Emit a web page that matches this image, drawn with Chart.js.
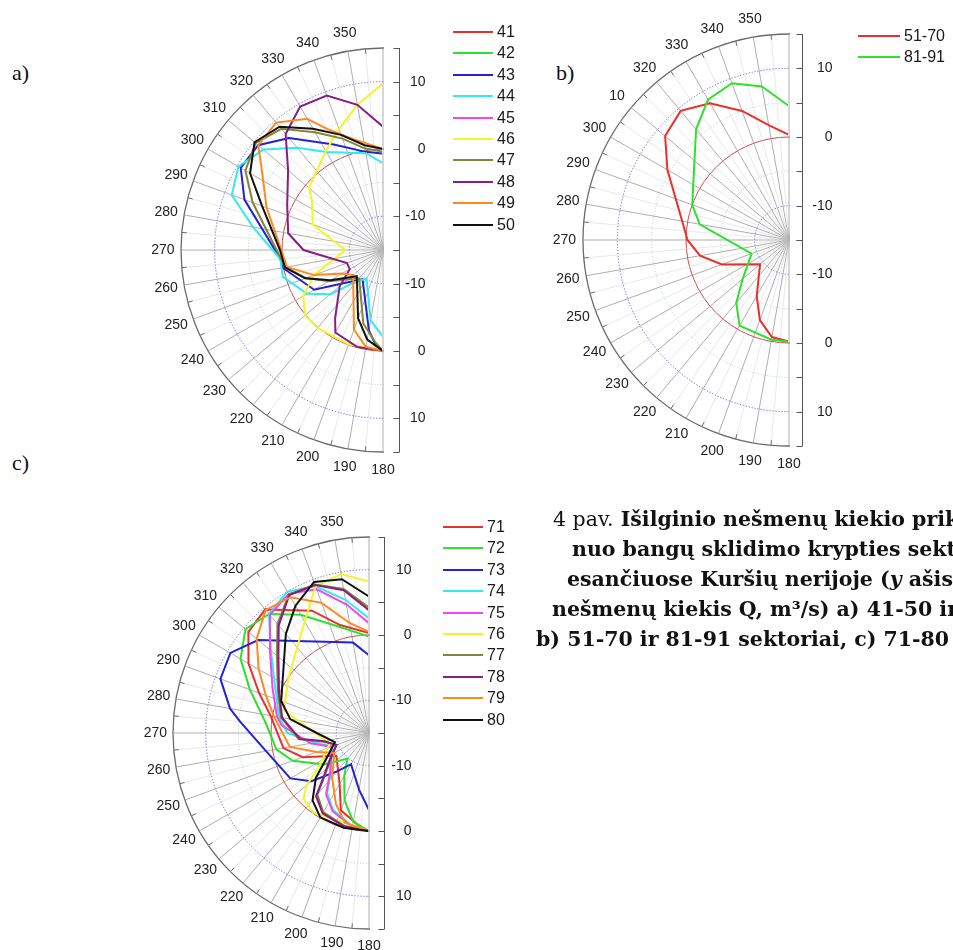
<!DOCTYPE html>
<html>
<head>
<meta charset="utf-8">
<title>Išilginio nešmenų kiekio priklausomybė</title>
<script src="https://cdn.jsdelivr.net/npm/chart.js@4.4.1/dist/chart.umd.min.js"></script>
<style>
  html, body { margin: 0; padding: 0; background: #fff; }
  body { position: relative; width: 953px; height: 950px; overflow: hidden; font-family: "Liberation Sans", Arial, sans-serif; }
  canvas { position: absolute; }
  .legend { position: absolute; font-size: 16px; color: #1a1a1a; }
  .legend .row { display: flex; align-items: center; height: 21.4px; }
  .legend .ln { display: inline-block; height: 0; border-top: 2px solid; margin-right: 4px; }
  .tag { position: absolute; font-family: "Liberation Serif", "DejaVu Serif", serif; font-size: 22px; color: #111; line-height: 1; }
  .cap { position: absolute; font-family: "DejaVu Serif", serif; font-size: 20.5px; font-weight: bold; white-space: nowrap; color: #111; line-height: 1; }
  .cap .n { font-weight: normal; }
</style>
</head>
<body>
<div class="tag" style="left:12px;top:62px">a)</div>
<div class="tag" style="left:556px;top:62px">b)</div>
<div class="tag" style="left:12px;top:452px">c)</div>

<canvas id="chA"></canvas>
<canvas id="chB"></canvas>
<canvas id="chC"></canvas>

<div id="legA" class="legend"></div>
<div id="legB" class="legend"></div>
<div id="legC" class="legend"></div>

<div class="cap" style="left:553px;top:509px"><span class="n">4 pav.</span> Išilginio nešmenų kiekio priklausomybės</div>
<div class="cap" style="left:572px;top:539px">nuo bangų sklidimo krypties sektoriuose,</div>
<div class="cap" style="left:567px;top:569px">esančiuose Kuršių nerijoje (<i>y</i> ašis –</div>
<div class="cap" style="left:552px;top:599px">nešmenų kiekis Q, m³/s) a) 41-50 ir</div>
<div class="cap" style="left:536px;top:629px">b) 51-70 ir 81-91 sektoriai, c) 71-80 sektoriai</div>

<script>
const _ = null;

// direction tick labels (degrees) shown round each half circle
const dirTicksA = ['180', '190', '200', '210', '220', '230', '240', '250', '260', '270', '280', '290', '300', '310', '320', '330', '340', '350'];
const dirTicksB = ['180', '190', '200', '210', '220', '230', '240', '250', '260', '270', '280', '290', '300', '10', '320', '330', '340', '350'];
const dirTicksC = dirTicksA;

// labels on the vertical Q axis, minor ticks every 5
const axisTicks = [10, 0, -10];
const axisMinor = [15, 10, 5, 0, -5, -10, -15];

// a) sectors 41-50, [direction, Q]
const a41 = []; // not visible in the figure
const a42 = [];
const a43 = [[180, 0], [185, -1.1], [190, -2.9], [215, -9.7], [230, -7.3], [240, -3.2], [260, 0.15], [265, 0.3], [290, 6.9], [300, 9.4], [310, 9.2], [320, 6.7], [335, 2.3], [350, -0.2], [360, -0.7]];
const a44 = [[180, -2.1], [190, -4.4], [210, -10.1], [220, -8.9], [230, -4.8], [240, -2], [255, 0.4], [265, 0.3], [280, 4.6], [290, 8.9], [300, 9.8], [310, 8.2], [320, 4.8], [330, 1.8], [350, -0.4], [360, -2.1]];
const a45 = [];
const a46 = [[180, 0], [200, -0.1], [220, 0.1], [230, 0.1], [240, -1.3], [250, -4.1], [270, -9.4], [290, -3.9], [305, -2.1], [310, -0.65], [330, 2], [340, 4.1], [350, 6.9], [360, 9.75]];
const a47 = [[180, 0], [185, -1.3], [195, -3.7], [220, -9.5], [240, -5.7], [250, -2.8], [260, -0.3], [270, 0.8], [290, 5.6], [300, 8.6], [310, 9.7], [320, 8.5], [330, 5.2], [340, 2.6], [350, 0.3], [360, -0.4]];
const a48 = [[180, 0], [195, -0.1], [210, -0.85], [215, -2.6], [230, -6.6], [240, -9.3], [250, -9.3], [270, -3.2], [280, -0.7], [295, 0.7], [310, 3.4], [320, 7.5], [330, 9.6], [340, 9.4], [350, 6.9], [360, 3.3]];
const a49 = [[180, 0], [190, -0.4], [200, -2.4], [230, -9.2], [240, -8], [250, -4.1], [260, -0.5], [270, 0.1], [290, 3.4], [305, 7.1], [310, 9.2], [320, 9.7], [330, 7.5], [335, 4.9], [345, 2.05], [360, 0]];
const a50 = [[180, 0], [190, -1.5], [200, -4.2], [225, -9.5], [240, -6], [250, -2.7], [260, -0.2], [270, 0.3], [290, 4.1], [300, 7.8], [310, 9.9], [320, 8.9], [330, 5.8], [340, 3.2], [350, 0.8], [360, 0]];

// b) sectors 51-70 and 81-91
const b5170 = [[180, -0.2], [190, -0.65], [200, -2.6], [210, -5.6], [230, -9.5], [250, -4.6], [260, -1.85], [270, -0.2], [275, 0.2], [300, 5.45], [310, 8.55], [320, 9.55], [330, 8], [340, 5], [350, 2], [360, 0.3]];
const b8191 = [[180, -0.2], [190, -0.25], [210, -0.6], [220, -3.05], [230, -6.2], [250, -9.2], [280, -1.8], [290, 0], [320, 6.05], [330, 8.6], [340, 9.3], [350, 7.7], [360, 4.5]];

// c) sectors 71-80
const c71 = [[180, 0], [185, -0.5], [200, -2.4], [210, -6], [235, -8.9], [250, -4.2], [260, -1.7], [280, 0.3], [290, 2.9], [300, 6.3], [310, 9.1], [320, 9.7], [325, 8], [335, 5.65], [345, 2.1], [360, 0.3]];
const c72 = [[180, 0], [190, -1.2], [200, -4.05], [210, -7.4], [220, -9.9], [235, -6.6], [250, -2.6], [260, -0.6], [275, 0.8], [290, 4.4], [300, 7.7], [310, 9.7], [320, 8.8], [330, 5.9], [345, 1.75], [360, -0.25]];
const c73 = [[180, -3.2], [190, -6.2], [210, -9.5], [220, -7.3], [230, -3.5], [240, -1.1], [260, 1], [275, 4.8], [280, 6.6], [290, 9.2], [300, 9.5], [310, 7.15], [350, -0.95], [360, -3.1]];
const c74 = [[180, 0], [190, -0.5], [205, -2], [215, -3.8], [225, -6.8], [250, -9], [260, -6.5], [270, -2.5], [280, -1], [295, 0.8], [310, 4.6], [320, 8.8], [330, 10], [340, 8.9], [350, 5.7], [360, 2.55]];
const c75 = [[180, 0], [190, -0.4], [205, -1.8], [215, -3.55], [225, -6.6], [250, -8.85], [260, -5.9], [275, -1.6], [280, -0.7], [295, 1.3], [310, 4.8], [320, 8.6], [330, 9.6], [340, 8.4], [350, 5], [360, 1.8]];
const c76 = [[180, 0], [215, -0.15], [225, -0.8], [230, -2.5], [235, -5.5], [255, -8.8], [280, -3.9], [285, -1.5], [305, 0], [330, 4.7], [340, 8.9], [350, 9.7], [360, 8.2]];
const c77 = [[180, 0], [195, -0.3], [210, -1], [220, -2.7], [225, -5.2], [235, -7.8], [250, -9.7], [260, -7.6], [265, -4.2], [280, -1.3], [295, 0.4], [310, 3.4], [320, 6.8], [330, 9.5], [340, 9.2], [350, 7.4], [360, 4.2]];
const c78 = [[180, 0], [195, -0.2], [210, -0.8], [220, -2.4], [225, -5], [235, -7.6], [250, -9.7], [260, -7.9], [265, -4.4], [280, -1.5], [295, 0.2], [310, 3.1], [320, 6.5], [330, 9.4], [340, 9.1], [350, 7.2], [360, 3.8]];
const c79 = [[180, 0], [195, -0.8], [205, -3], [220, -6.2], [240, -8.9], [250, -6.5], [260, -2.7], [280, -0.2], [290, 1.8], [300, 4.5], [310, 7.45], [320, 9.6], [330, 9], [340, 6.2], [350, 2.1], [360, 0.5]];
const c80 = [[180, 0], [195, 0], [210, -0.1], [220, -1.55], [230, -4.4], [240, -7.6], [255, -9.6], [270, -7], [280, -2.75], [290, -0.7], [320, 4.8], [330, 7.5], [340, 9.6], [350, 8.9], [360, 5.9]];

const namesA = ['41', '42', '43', '44', '45', '46', '47', '48', '49', '50'];
const namesB = ['51-70', '81-91'];
const namesC = ['71', '72', '73', '74', '75', '76', '77', '78', '79', '80'];
const palette = ['#e8302c', '#2fe02f', '#2222d8', '#33eaf0', '#ee48ee', '#f4f42c', '#85853a', '#861e86', '#ff8a1f', '#111111'];

const PAD = 50;

// radar slots every 5 degrees, 0 at top, clockwise
const slotLabels = [];
for (let d = 0; d < 360; d += 5) slotLabels.push(String(d));

function toSlots(pairs) {
    const out = new Array(slotLabels.length).fill(null);
    pairs.forEach(([dir, q]) => { out[(dir / 5) % 72] = q; });
    return out;
}

function ringColor(v) {
    if (v === 10 || v === -10) return '#5b5bf2';
    if (v === 5 || v === -5) return '#b2e0b2';
    if (v === 0) return '#c94a4a';
    if (v === 15) return '#6b6b6b';
    return 'rgba(0,0,0,0)';
}

// keep only the left half, then draw labels and the Q axis
const halfPolar = {
    id: 'halfPolar',
    beforeDraw(chart) {
        const s = chart.scales.r, ctx = chart.ctx;
        ctx.save();
        ctx.beginPath();
        ctx.rect(0, 0, s.xCenter + 1, chart.height);
        ctx.clip();
    },
    beforeDatasetsDraw(chart) {
        const s = chart.scales.r, ctx = chart.ctx;
        ctx.save();
        ctx.beginPath();
        ctx.rect(0, 0, s.xCenter - 1, chart.height);
        ctx.clip();
    },
    afterDatasetsDraw(chart) {
        chart.ctx.restore();
    },
    afterDraw(chart, args, o) {
        const ctx = chart.ctx, s = chart.scales.r;
        ctx.restore();
        const R = s.drawingArea, xc = s.xCenter, yc = s.yCenter;
        ctx.save();

        // small ticks on the rim between the 10 degree spokes
        ctx.strokeStyle = '#6b6b6b';
        ctx.lineWidth = 1;
        ctx.beginPath();
        for (let i = 37; i < 72; i += 2) {
            const p1 = s.getPointPosition(i, R), p2 = s.getPointPosition(i, R - 5);
            ctx.moveTo(p1.x, p1.y);
            ctx.lineTo(p2.x, p2.y);
        }
        ctx.stroke();

        // direction labels
        ctx.font = '14px "Liberation Sans", Arial, sans-serif';
        ctx.fillStyle = '#222';
        ctx.textAlign = 'center';
        ctx.textBaseline = 'middle';
        o.dirTicks.forEach((t, k) => {
            const p = s.getPointPosition(36 + 2 * k, R * 1.09);
            ctx.fillText(t, p.x, p.y);
        });

        // vertical Q axis, mirrored below the centre
        const ax = Math.round(xc + o.axisOff) + 0.5;
        ctx.strokeStyle = '#555';
        ctx.beginPath();
        ctx.moveTo(ax, yc - R);
        ctx.lineTo(ax, yc + R);
        axisMinor.forEach(v => {
            const d = s.getDistanceFromCenterForValue(v);
            [yc - d, yc + d].forEach(y => {
                const yy = Math.round(y) + 0.5;
                ctx.moveTo(ax - 6, yy);
                ctx.lineTo(ax, yy);
            });
        });
        ctx.stroke();
        ctx.textAlign = 'right';
        axisTicks.forEach(v => {
            const d = s.getDistanceFromCenterForValue(v);
            ctx.fillText(String(v), ax + o.labelRight, yc - d);
            ctx.fillText(String(v), ax + o.labelRight, yc + d);
        });
        ctx.restore();
    }
};

function makeLegend(id, x, y, lineW, names, colors) {
    const box = document.getElementById(id);
    box.style.left = x + 'px';
    box.style.top = (y - 10.7) + 'px';
    names.forEach((n, i) => {
        const row = document.createElement('div');
        row.className = 'row';
        row.innerHTML = `<span class="ln" style="width:${lineW}px;border-color:${colors[i]}"></span>${n}`;
        box.appendChild(row);
    });
}

function makePanel(id, geo, names, colors, series, dirTicks) {
    const canvas = document.getElementById(id);
    const size = 2 * geo.R + 2 * PAD;
    canvas.width = size;
    canvas.height = size;
    canvas.style.left = (geo.cx - PAD - geo.R) + 'px';
    canvas.style.top = (geo.cy - PAD - geo.R) + 'px';

    return new Chart(canvas.getContext('2d'), {
        type: 'radar',
        data: {
            labels: slotLabels,
            datasets: series.map((s, i) => ({
                label: names[i],
                data: toSlots(s),
                borderColor: colors[i],
                borderWidth: 2,
                pointRadius: 0,
                pointHoverRadius: 0,
                fill: false,
                tension: 0,
                spanGaps: true,
                order: series.length - i
            }))
        },
        options: {
            responsive: false,
            animation: false,
            events: [],
            layout: { padding: PAD },
            plugins: {
                legend: { display: false },
                tooltip: { enabled: false },
                halfPolar: { dirTicks, axisOff: geo.axisOff, labelRight: geo.labelRight }
            },
            scales: {
                r: {
                    min: -15,
                    max: 15,
                    startAngle: 0,
                    ticks: { display: false, stepSize: 5 },
                    pointLabels: { display: false },
                    grid: {
                        circular: true,
                        color: c => ringColor(c.tick.value),
                        lineWidth: c => c.tick.value === 15 ? 1.3 : 1
                    },
                    border: {
                        dash: c => (Math.abs(c.tick.value) === 5 || Math.abs(c.tick.value) === 10) ? [1.2, 1.8] : []
                    },
                    angleLines: {
                        color: c => c.index % 2 ? '#dedede' : '#999999',
                        lineWidth: c => c.index % 2 ? 0.7 : 0.8
                    }
                }
            }
        },
        plugins: [halfPolar]
    });
}

makePanel('chA', { cx: 383, cy: 250, R: 202, axisOff: 16, labelRight: 26 }, namesA, palette,
    [a41, a42, a43, a44, a45, a46, a47, a48, a49, a50], dirTicksA);
makePanel('chB', { cx: 789, cy: 240, R: 206, axisOff: 13, labelRight: 30 }, namesB, [palette[0], palette[1]],
    [b5170, b8191], dirTicksB);
makePanel('chC', { cx: 369, cy: 733, R: 196, axisOff: 15, labelRight: 27 }, namesC, palette,
    [c71, c72, c73, c74, c75, c76, c77, c78, c79, c80], dirTicksC);

makeLegend('legA', 453, 32, 40, namesA, palette);
makeLegend('legB', 858, 36, 42, namesB, [palette[0], palette[1]]);
makeLegend('legC', 443, 527, 40, namesC, palette);
</script>
</body>
</html>
